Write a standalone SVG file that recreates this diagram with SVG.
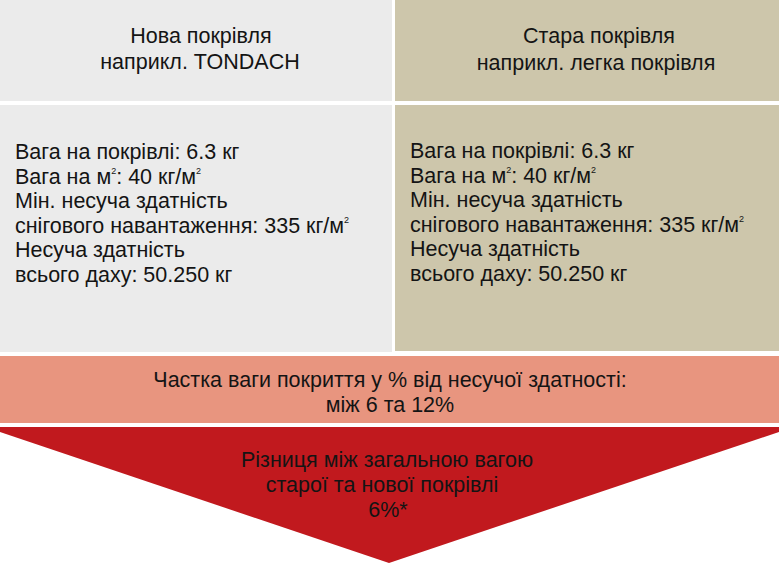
<svg xmlns="http://www.w3.org/2000/svg" width="779" height="563" viewBox="0 0 779 563">
<style>
text{font-family:"Liberation Sans",Arial,sans-serif;fill:#141414;font-size:21.5px;}
.h{text-anchor:middle;}
.c{text-anchor:middle;}
.sup{font-size:9px;}
.gray{fill:#ebebeb;}
.tan{fill:#cdc6ab;}
</style>
<rect width="779" height="563" fill="#ffffff"/>
<g id="new-roof-header">
<rect class="gray" x="0" y="0" width="392" height="101"/>
<text class="h" x="201" y="43">Нова покрівля</text>
<text class="h" x="200" y="69">наприкл. TONDACH</text>
</g>
<g id="old-roof-header">
<rect class="tan" x="395" y="0" width="384" height="101"/>
<text class="h" x="599" y="43">Стара покрівля</text>
<text class="h" x="596" y="70">наприкл. легка покрівля</text>
</g>
<g id="new-roof-data">
<rect class="gray" x="0" y="105" width="392" height="247"/>
<text x="15" y="159">Вага на покрівлі: 6.3 кг</text>
<text x="15" y="184">Вага на м<tspan class="sup" dy="-10">2</tspan><tspan dy="10">: 40 кг/м</tspan><tspan class="sup" dy="-10">2</tspan></text>
<text x="15" y="208">Мін. несуча здатність</text>
<text x="15" y="233">снігового навантаження: 335 кг/м<tspan class="sup" dy="-10">2</tspan></text>
<text x="15" y="257">Несуча здатність</text>
<text x="15" y="282">всього даху: 50.250 кг</text>
</g>
<g id="old-roof-data">
<rect class="tan" x="395" y="105" width="384" height="246"/>
<text x="410" y="158">Вага на покрівлі: 6.3 кг</text>
<text x="410" y="183">Вага на м<tspan class="sup" dy="-10">2</tspan><tspan dy="10">: 40 кг/м</tspan><tspan class="sup" dy="-10">2</tspan></text>
<text x="410" y="207">Мін. несуча здатність</text>
<text x="410" y="232">снігового навантаження: 335 кг/м<tspan class="sup" dy="-10">2</tspan></text>
<text x="410" y="256">Несуча здатність</text>
<text x="410" y="281">всього даху: 50.250 кг</text>
</g>
<g id="share-band">
<rect x="0" y="356" width="779" height="67" fill="#e8957f"/>
<text class="c" x="390" y="387">Частка ваги покриття у % від несучої здатності:</text>
<text class="c" x="390" y="412">між 6 та 12%</text>
</g>
<g id="difference-arrow">
<polygon points="0,427 779,427 779,432 389,563 0,432" fill="#c1191e"/>
<text class="c" x="387" y="467">Різниця між загальною вагою</text>
<text class="c" x="382" y="492">старої та нової покрівлі</text>
<text class="c" x="388" y="517">6%*</text>
</g>
<g id="connectors"/>
</svg>
